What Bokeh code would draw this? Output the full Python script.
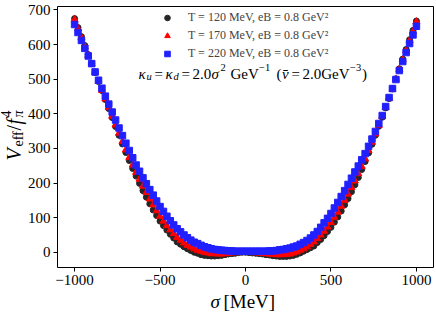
import math
from bokeh.plotting import figure
from bokeh.models import (Range1d, FixedTicker, CustomJSTickFormatter, Label,
                          Legend, LegendItem, BoxAnnotation)
from bokeh.embed import file_html
from bokeh.resources import INLINE

# ---------------- data ----------------
sigma = [-1000, -980, -960, -940, -920, -900, -880, -860, -840, -820,
         -800, -780, -760, -740, -720, -700, -680, -660, -640, -620,
         -600, -580, -560, -540, -520, -500, -480, -460, -440, -420,
         -400, -380, -360, -340, -320, -300, -280, -260, -240, -220,
         -200, -180, -160, -140, -120, -100, -80, -60, -40, -20,
         0,
         20, 40, 60, 80, 100, 120, 140, 160, 180, 200,
         220, 240, 260, 280, 300, 320, 340, 360, 380, 400,
         420, 440, 460, 480, 500, 520, 540, 560, 580, 600,
         620, 640, 660, 680, 700, 720, 740, 760, 780, 800,
         820, 840, 860, 880, 900, 920, 940, 960, 980, 1000]

v_T120 = [675, 649, 623, 597, 571, 545, 519, 493, 467, 441,
          415, 389, 363, 338, 313, 288, 265, 242, 220, 199,
          178, 159, 140, 122, 106, 90, 77, 64, 52, 41,
          30, 23, 16, 10, 5, 0, -3, -7, -9, -10,
          -11, -11, -10, -9, -7, -5, -4, -3, -1, 0,
          0,
          -1, -2, -3, -4, -5, -7, -8, -10, -11, -12,
          -12, -12, -11, -9, -6, -2, 3, 8, 13, 18,
          28, 37, 48, 60, 72, 87, 102, 119, 137, 155,
          175, 195, 216, 239, 262, 287, 312, 338, 364, 390,
          417, 444, 472, 501, 530, 558, 586, 614, 641, 668]

v_T170 = [672, 646, 620, 594, 569, 544, 519, 494, 468, 443,
          418, 393, 368, 344, 320, 296, 274, 252, 231, 211,
          191, 173, 154, 137, 120, 104, 90, 77, 65, 54,
          43, 35, 27, 20, 15, 10, 6, 3, 0, -2,
          -4, -4, -5, -5, -4, -3, -2, -1, -1, 0,
          0,
          0, -1, -1, -2, -3, -4, -5, -6, -7, -7,
          -7, -6, -5, -2, 1, 6, 10, 16, 23, 30,
          40, 50, 61, 73, 86, 101, 116, 133, 150, 168,
          187, 206, 227, 248, 270, 294, 318, 342, 367, 392,
          418, 445, 471, 500, 528, 556, 583, 611, 638, 666]

v_T220 = [658, 635, 612, 589, 567, 545, 521, 497, 474, 451,
          428, 405, 382, 359, 337, 315, 294, 273, 252, 234,
          215, 198, 181, 165, 148, 132, 118, 104, 91, 79,
          68, 59, 50, 42, 35, 29, 25, 20, 16, 13,
          10, 8, 7, 6, 5, 4, 4, 3, 3, 3,
          3,
          3, 3, 3, 3, 3, 3, 4, 4, 5, 7,
          8, 10, 12, 15, 18, 23, 28, 34, 41, 50,
          60, 72, 85, 98, 112, 128, 144, 161, 178, 196,
          214, 232, 249, 267, 285, 306, 327, 349, 372, 395,
          421, 447, 473, 499, 525, 551, 577, 603, 628, 653]

x_ticks = [-1000, -500, 0, 500, 1000]
y_ticks = [0, 100, 200, 300, 400, 500, 600, 700]
legend_labels = ["T = 120 MeV, eB = 0.8 GeV²",
                 "T = 170 MeV, eB = 0.8 GeV²",
                 "T = 220 MeV, eB = 0.8 GeV²"]
x_lim = (-1100, 1100)      # axes box limits
y_lim = (-44, 710)

SERIF = "Liberation Serif"

# The frame fills the canvas; the axes box (x_lim, y_lim) sits at
# page px x 57..433, y 6..267 as in the reference.
W, H = 436, 312
BOX_L, BOX_R, BOX_T, BOX_B = 57, 433, 6, 267
sx = (BOX_R - BOX_L) / (x_lim[1] - x_lim[0])
sy = (BOX_B - BOX_T) / (y_lim[1] - y_lim[0])
x_range = Range1d(x_lim[0] - BOX_L / sx, x_lim[1] + (W - BOX_R) / sx)
y_range = Range1d(y_lim[0] - (H - BOX_B) / sy, y_lim[1] + BOX_T / sy)

p = figure(width=W, height=H, output_backend="svg", toolbar_location=None,
           x_range=x_range, y_range=y_range,
           min_border_left=0, min_border_right=0, min_border_top=0,
           min_border_bottom=0)
p.background_fill_color = "white"
p.border_fill_color = "white"
p.xgrid.visible = False
p.ygrid.visible = False
p.outline_line_color = None

p.add_layout(BoxAnnotation(left=x_lim[0], right=x_lim[1],
                           bottom=y_lim[0], top=y_lim[1],
                           fill_color=None, fill_alpha=0,
                           line_color="black", line_alpha=1, line_width=1,
                           level="overlay"))

fmt = CustomJSTickFormatter(code="return tick < 0 ? '\u2212' + Math.abs(tick) : '' + tick;")
p.xaxis.ticker = FixedTicker(ticks=x_ticks)
p.yaxis.ticker = FixedTicker(ticks=y_ticks)
p.xaxis.fixed_location = y_lim[0]
p.yaxis.fixed_location = x_lim[0]
for ax in (p.xaxis[0], p.yaxis[0]):
    ax.formatter = fmt
    ax.major_label_text_font = SERIF
    ax.major_label_text_font_size = "15px"
    ax.major_label_text_color = "black"
    ax.major_tick_out = 4
    ax.major_tick_in = 0
    ax.minor_tick_out = 0
    ax.minor_tick_in = 0
    ax.axis_line_color = None
    ax.major_tick_line_color = "black"
    ax.major_label_standoff = 3

r1 = p.scatter(sigma, v_T120, marker="circle", size=6,
               fill_color="#262626", line_color="#262626")
r2 = p.scatter(sigma, v_T170, marker="triangle", size=7,
               fill_color="#ff0000", line_color="#ff0000")
r3 = p.scatter(sigma, v_T220, marker="square", size=6.5,
               fill_color="#2020ff", line_color="#2020ff")

legend = Legend(items=[LegendItem(label=legend_labels[0], renderers=[r1]),
                       LegendItem(label=legend_labels[1], renderers=[r2]),
                       LegendItem(label=legend_labels[2], renderers=[r3])],
                location=(160, 251), padding=0, margin=0,
                border_line_alpha=0, background_fill_alpha=0,
                label_text_font=SERIF, label_text_font_size="12px",
                glyph_width=14, glyph_height=15, label_height=15,
                label_standoff=14, spacing=3)
p.add_layout(legend)


def seg(x, y, text, size, italic=False, dx=0, dy=0, angle=0):
    p.add_layout(Label(x=x, y=y, text=text, x_offset=dx, y_offset=dy,
                       angle=angle, text_font=SERIF,
                       text_font_size=f"{size}px",
                       text_font_style="italic" if italic else "normal",
                       text_color="black", text_align="left",
                       text_baseline="alphabetic"))


# annotation  kappa_u = kappa_d = ...
ax0, ay0 = -626, 516
for text, size, it, dx, dy in [
        ("κ", 15, True, 0, 0), ("u", 10.5, True, 8, -3),
        ("=", 15, False, 16, 0), ("κ", 15, True, 27, 0),
        ("d", 10.5, True, 35, -3), ("=", 15, False, 43, 0),
        ("2.0", 15, False, 54, 0), ("σ", 15, True, 73, 0),
        ("2", 10.5, False, 82, 6), ("GeV", 15, False, 92, 0),
        ("−1", 10.5, False, 120.5, 6), ("(", 15, False, 138, 0),
        ("v̄", 15, True, 143.5, 0), ("=", 15, False, 153, 0),
        ("2.0GeV", 15, False, 164, 0), ("−3", 10.5, False, 211.5, 6),
        (")", 15, False, 223.5, 0)]:
    seg(ax0, ay0, text, size, it, dx, dy)

# x axis label
seg(-205, -142, "σ", 19, True)
seg(-205, -142, "[MeV]", 19, False, dx=13)

# y axis label (rotated)
yx0, yy0 = -1352, 265
A = math.pi / 2
seg(yx0, yy0, "V", 20, True, 0, 0, A)
seg(yx0, yy0, "eff", 14, False, 4, 14, A)
seg(yx0, yy0, "/", 20, False, 0, 30, A)
seg(yx0, yy0, "f", 20, True, 0, 36, A)
seg(yx0, yy0, "π", 14, True, 4, 43, A)
seg(yx0, yy0, "4", 14, False, -8, 43, A)

open("out.html", "w").write(file_html(p, INLINE))
